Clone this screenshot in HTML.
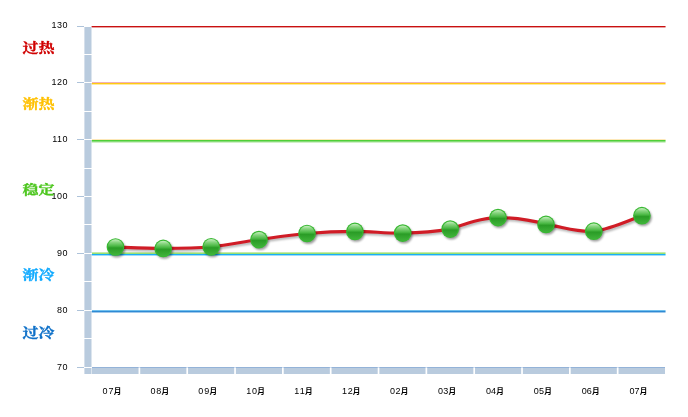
<!DOCTYPE html><html><head><meta charset="utf-8"><title>chart</title>
<style>html,body{margin:0;padding:0;background:#fff;overflow:hidden}svg{display:block}.n{font-family:"Liberation Sans","Noto Sans CJK SC",sans-serif;font-size:9px;fill:#000}.m{font-size:7.6px;font-weight:bold}.z{font-family:"Liberation Serif","Noto Serif CJK SC",serif;font-size:16px;font-weight:bold}</style></head><body>
<svg width="688" height="417" viewBox="0 0 688 417" shape-rendering="crispEdges">
<defs><linearGradient id="g" x1="0" y1="0" x2="0" y2="1"><stop offset="0" stop-color="#c6efbe"/><stop offset="0.2" stop-color="#86d47e"/><stop offset="0.44" stop-color="#4ab844"/><stop offset="0.56" stop-color="#2a9c26"/><stop offset="1" stop-color="#40b23a"/></linearGradient><filter id="sh" x="-30%" y="-30%" width="170%" height="170%"><feGaussianBlur stdDeviation="1.2"/></filter></defs>
<rect width="688" height="417" fill="#fff"/>
<rect x="92" y="26" width="573" height="1" fill="#c91111"/>
<rect x="91" y="26" width="1" height="1" fill="#c91111" opacity="0.4"/>
<rect x="665" y="26" width="1" height="1" fill="#c91111" opacity="0.55"/>
<rect x="92" y="27" width="573" height="1" fill="#e9a0a0"/>
<rect x="91" y="27" width="1" height="1" fill="#e9a0a0" opacity="0.4"/>
<rect x="665" y="27" width="1" height="1" fill="#e9a0a0" opacity="0.55"/>
<rect x="92" y="82" width="573" height="1" fill="#f0b0b8"/>
<rect x="91" y="82" width="1" height="1" fill="#f0b0b8" opacity="0.4"/>
<rect x="665" y="82" width="1" height="1" fill="#f0b0b8" opacity="0.55"/>
<rect x="92" y="83" width="573" height="1" fill="#ffca10"/>
<rect x="91" y="83" width="1" height="1" fill="#ffca10" opacity="0.4"/>
<rect x="665" y="83" width="1" height="1" fill="#ffca10" opacity="0.55"/>
<rect x="92" y="84" width="573" height="1" fill="#ffe9a0"/>
<rect x="91" y="84" width="1" height="1" fill="#ffe9a0" opacity="0.4"/>
<rect x="665" y="84" width="1" height="1" fill="#ffe9a0" opacity="0.55"/>
<rect x="92" y="139" width="573" height="1" fill="#fde8b8"/>
<rect x="91" y="139" width="1" height="1" fill="#fde8b8" opacity="0.4"/>
<rect x="665" y="139" width="1" height="1" fill="#fde8b8" opacity="0.55"/>
<rect x="92" y="140" width="573" height="1" fill="#4fd038"/>
<rect x="91" y="140" width="1" height="1" fill="#4fd038" opacity="0.4"/>
<rect x="665" y="140" width="1" height="1" fill="#4fd038" opacity="0.55"/>
<rect x="92" y="141" width="573" height="1" fill="#88dc78"/>
<rect x="91" y="141" width="1" height="1" fill="#88dc78" opacity="0.4"/>
<rect x="665" y="141" width="1" height="1" fill="#88dc78" opacity="0.55"/>
<rect x="92" y="142" width="573" height="1" fill="#d0f0c8"/>
<rect x="91" y="142" width="1" height="1" fill="#d0f0c8" opacity="0.4"/>
<rect x="665" y="142" width="1" height="1" fill="#d0f0c8" opacity="0.55"/>
<rect x="92" y="252" width="573" height="1" fill="#c4ecaa"/>
<rect x="91" y="252" width="1" height="1" fill="#c4ecaa" opacity="0.4"/>
<rect x="665" y="252" width="1" height="1" fill="#c4ecaa" opacity="0.55"/>
<rect x="92" y="253" width="573" height="1" fill="#9be070"/>
<rect x="91" y="253" width="1" height="1" fill="#9be070" opacity="0.4"/>
<rect x="665" y="253" width="1" height="1" fill="#9be070" opacity="0.55"/>
<rect x="92" y="254" width="573" height="1" fill="#18b0f8"/>
<rect x="91" y="254" width="1" height="1" fill="#18b0f8" opacity="0.4"/>
<rect x="665" y="254" width="1" height="1" fill="#18b0f8" opacity="0.55"/>
<rect x="92" y="255" width="573" height="1" fill="#a0dcfa"/>
<rect x="91" y="255" width="1" height="1" fill="#a0dcfa" opacity="0.4"/>
<rect x="665" y="255" width="1" height="1" fill="#a0dcfa" opacity="0.55"/>
<rect x="92" y="310" width="573" height="1" fill="#70c0ee"/>
<rect x="91" y="310" width="1" height="1" fill="#70c0ee" opacity="0.4"/>
<rect x="665" y="310" width="1" height="1" fill="#70c0ee" opacity="0.55"/>
<rect x="92" y="311" width="573" height="1" fill="#2e8ad4"/>
<rect x="91" y="311" width="1" height="1" fill="#2e8ad4" opacity="0.4"/>
<rect x="665" y="311" width="1" height="1" fill="#2e8ad4" opacity="0.55"/>
<rect x="92" y="312" width="573" height="1" fill="#a0c8ea"/>
<rect x="91" y="312" width="1" height="1" fill="#a0c8ea" opacity="0.4"/>
<rect x="665" y="312" width="1" height="1" fill="#a0c8ea" opacity="0.55"/>
<rect x="84.4" y="27" width="7.1" height="347" fill="#b9cbde" shape-rendering="geometricPrecision"/>
<rect x="92" y="367" width="573" height="7" fill="#b9cbde"/>
<rect x="92" y="367" width="573" height="1" fill="#94b3d8"/>
<rect x="77" y="26" width="7" height="1" fill="#aec3da"/>
<rect x="84" y="54" width="8" height="1" fill="#fff"/>
<rect x="77" y="82" width="7" height="1" fill="#aec3da"/>
<rect x="84" y="82" width="8" height="1" fill="#fff"/>
<rect x="84" y="111" width="8" height="1" fill="#fff"/>
<rect x="77" y="139" width="7" height="1" fill="#aec3da"/>
<rect x="84" y="139" width="8" height="1" fill="#fff"/>
<rect x="84" y="168" width="8" height="1" fill="#fff"/>
<rect x="77" y="196" width="7" height="1" fill="#aec3da"/>
<rect x="84" y="196" width="8" height="1" fill="#fff"/>
<rect x="84" y="224" width="8" height="1" fill="#fff"/>
<rect x="77" y="253" width="7" height="1" fill="#aec3da"/>
<rect x="84" y="253" width="8" height="1" fill="#fff"/>
<rect x="84" y="281" width="8" height="1" fill="#fff"/>
<rect x="77" y="310" width="7" height="1" fill="#aec3da"/>
<rect x="84" y="310" width="8" height="1" fill="#fff"/>
<rect x="84" y="338" width="8" height="1" fill="#fff"/>
<rect x="77" y="367" width="7" height="1" fill="#aec3da"/>
<rect x="84" y="367" width="8" height="1" fill="#fff"/>
<g shape-rendering="geometricPrecision">
<rect x="138.53" y="368" width="1.7" height="6" fill="#fff"/>
<rect x="138.53" y="367" width="1.7" height="1" fill="#d4e2f2"/>
<rect x="186.36" y="368" width="1.7" height="6" fill="#fff"/>
<rect x="186.36" y="367" width="1.7" height="1" fill="#d4e2f2"/>
<rect x="234.19" y="368" width="1.7" height="6" fill="#fff"/>
<rect x="234.19" y="367" width="1.7" height="1" fill="#d4e2f2"/>
<rect x="282.02" y="368" width="1.7" height="6" fill="#fff"/>
<rect x="282.02" y="367" width="1.7" height="1" fill="#d4e2f2"/>
<rect x="329.85" y="368" width="1.7" height="6" fill="#fff"/>
<rect x="329.85" y="367" width="1.7" height="1" fill="#d4e2f2"/>
<rect x="377.68" y="368" width="1.7" height="6" fill="#fff"/>
<rect x="377.68" y="367" width="1.7" height="1" fill="#d4e2f2"/>
<rect x="425.51" y="368" width="1.7" height="6" fill="#fff"/>
<rect x="425.51" y="367" width="1.7" height="1" fill="#d4e2f2"/>
<rect x="473.34" y="368" width="1.7" height="6" fill="#fff"/>
<rect x="473.34" y="367" width="1.7" height="1" fill="#d4e2f2"/>
<rect x="521.17" y="368" width="1.7" height="6" fill="#fff"/>
<rect x="521.17" y="367" width="1.7" height="1" fill="#d4e2f2"/>
<rect x="569.00" y="368" width="1.7" height="6" fill="#fff"/>
<rect x="569.00" y="367" width="1.7" height="1" fill="#d4e2f2"/>
<rect x="616.83" y="368" width="1.7" height="6" fill="#fff"/>
<rect x="616.83" y="367" width="1.7" height="1" fill="#d4e2f2"/>
</g>
<text class="n" x="68" y="28" text-anchor="end" letter-spacing="0.5">130</text>
<text class="n" x="68" y="85" text-anchor="end" letter-spacing="0.5">120</text>
<text class="n" x="68" y="142" text-anchor="end" letter-spacing="0.5">110</text>
<text class="n" x="68" y="199" text-anchor="end" letter-spacing="0.5">100</text>
<text class="n" x="68" y="256" text-anchor="end" letter-spacing="0.5">90</text>
<text class="n" x="68" y="313" text-anchor="end" letter-spacing="0.5">80</text>
<text class="n" x="68" y="370" text-anchor="end" letter-spacing="0.5">70</text>
<text class="n" x="102.5 108.5" y="394.2">07<tspan class="m" x="113.7" y="394.3">月</tspan></text>
<text class="n" x="150.4 156.3" y="394.2">08<tspan class="m" x="161.5" y="394.3">月</tspan></text>
<text class="n" x="198.3 204.2" y="394.2">09<tspan class="m" x="209.4" y="394.3">月</tspan></text>
<text class="n" x="246.3 252.0" y="394.2">10<tspan class="m" x="257.2" y="394.3">月</tspan></text>
<text class="n" x="294.2 299.8" y="394.2">11<tspan class="m" x="305.0" y="394.3">月</tspan></text>
<text class="n" x="342.1 347.7" y="394.2">12<tspan class="m" x="352.8" y="394.3">月</tspan></text>
<text class="n" x="390.0 395.5" y="394.2">02<tspan class="m" x="400.7" y="394.3">月</tspan></text>
<text class="n" x="437.9 443.3" y="394.2">03<tspan class="m" x="448.5" y="394.3">月</tspan></text>
<text class="n" x="485.9 491.1" y="394.2">04<tspan class="m" x="496.3" y="394.3">月</tspan></text>
<text class="n" x="533.8 539.0" y="394.2">05<tspan class="m" x="544.2" y="394.3">月</tspan></text>
<text class="n" x="581.7 586.8" y="394.2">06<tspan class="m" x="592.0" y="394.3">月</tspan></text>
<text class="n" x="629.6 634.6" y="394.2">07<tspan class="m" x="639.8" y="394.3">月</tspan></text>
<text class="z" transform="translate(22.5,51.9) scale(1,0.79)" fill="#d00000" stroke="#d00000" stroke-width="0.4">过热</text>
<text class="z" transform="translate(22.5,108.1) scale(1,0.79)" fill="#ffc000" stroke="#ffc000" stroke-width="0.4">渐热</text>
<text class="z" transform="translate(22.5,194.3) scale(1,0.79)" fill="#4cc61e" stroke="#4cc61e" stroke-width="0.4">稳定</text>
<text class="z" transform="translate(22.5,279.3) scale(1,0.79)" fill="#10aaff" stroke="#10aaff" stroke-width="0.4">渐冷</text>
<text class="z" transform="translate(22.5,336.7) scale(1,0.79)" fill="#0e70c8" stroke="#0e70c8" stroke-width="0.4">过冷</text>
<g shape-rendering="auto">
<path d="M115.5,247 C123.45,247.23 147.25,248.43 163.2,248.4 C179.15,248.37 195.23,248.27 211.2,246.8 C227.17,245.33 243.03,241.82 259,239.6 C274.97,237.38 291.02,234.87 307,233.5 C322.98,232.13 338.95,231.47 354.9,231.4 C370.85,231.33 386.82,233.48 402.7,233.1 C418.58,232.72 434.32,231.68 450.2,229.1 C466.20,223.50 482.00,217.90 498,217.6 C514.00,217.50 530.00,219.60 546,224.4 C561.97,226.67 577.82,232.65 593.8,231.2 C609.78,229.75 633.88,218.28 641.9,215.7" fill="none" stroke="#000" stroke-opacity="0.3" stroke-width="3" transform="translate(1.2,1.8)" filter="url(#sh)"/>
<path d="M115.5,247 C123.45,247.23 147.25,248.43 163.2,248.4 C179.15,248.37 195.23,248.27 211.2,246.8 C227.17,245.33 243.03,241.82 259,239.6 C274.97,237.38 291.02,234.87 307,233.5 C322.98,232.13 338.95,231.47 354.9,231.4 C370.85,231.33 386.82,233.48 402.7,233.1 C418.58,232.72 434.32,231.68 450.2,229.1 C466.20,223.50 482.00,217.90 498,217.6 C514.00,217.50 530.00,219.60 546,224.4 C561.97,226.67 577.82,232.65 593.8,231.2 C609.78,229.75 633.88,218.28 641.9,215.7" fill="none" stroke="#d01c26" stroke-width="3.1" stroke-linecap="round"/>
<circle cx="116.8" cy="248.8" r="8.6" fill="#000" opacity="0.4" filter="url(#sh)"/>
<circle cx="115.5" cy="247" r="8.85" fill="#38b832"/>
<circle cx="115.5" cy="247" r="7.7" fill="url(#g)"/>
<circle cx="164.5" cy="250.2" r="8.6" fill="#000" opacity="0.4" filter="url(#sh)"/>
<circle cx="163.2" cy="248.4" r="8.85" fill="#38b832"/>
<circle cx="163.2" cy="248.4" r="7.7" fill="url(#g)"/>
<circle cx="212.5" cy="248.6" r="8.6" fill="#000" opacity="0.4" filter="url(#sh)"/>
<circle cx="211.2" cy="246.8" r="8.85" fill="#38b832"/>
<circle cx="211.2" cy="246.8" r="7.7" fill="url(#g)"/>
<circle cx="260.3" cy="241.4" r="8.6" fill="#000" opacity="0.4" filter="url(#sh)"/>
<circle cx="259" cy="239.6" r="8.85" fill="#38b832"/>
<circle cx="259" cy="239.6" r="7.7" fill="url(#g)"/>
<circle cx="308.3" cy="235.3" r="8.6" fill="#000" opacity="0.4" filter="url(#sh)"/>
<circle cx="307" cy="233.5" r="8.85" fill="#38b832"/>
<circle cx="307" cy="233.5" r="7.7" fill="url(#g)"/>
<circle cx="356.2" cy="233.2" r="8.6" fill="#000" opacity="0.4" filter="url(#sh)"/>
<circle cx="354.9" cy="231.4" r="8.85" fill="#38b832"/>
<circle cx="354.9" cy="231.4" r="7.7" fill="url(#g)"/>
<circle cx="404.0" cy="234.9" r="8.6" fill="#000" opacity="0.4" filter="url(#sh)"/>
<circle cx="402.7" cy="233.1" r="8.85" fill="#38b832"/>
<circle cx="402.7" cy="233.1" r="7.7" fill="url(#g)"/>
<circle cx="451.5" cy="230.9" r="8.6" fill="#000" opacity="0.4" filter="url(#sh)"/>
<circle cx="450.2" cy="229.1" r="8.85" fill="#38b832"/>
<circle cx="450.2" cy="229.1" r="7.7" fill="url(#g)"/>
<circle cx="499.3" cy="219.4" r="8.6" fill="#000" opacity="0.4" filter="url(#sh)"/>
<circle cx="498" cy="217.6" r="8.85" fill="#38b832"/>
<circle cx="498" cy="217.6" r="7.7" fill="url(#g)"/>
<circle cx="547.3" cy="226.2" r="8.6" fill="#000" opacity="0.4" filter="url(#sh)"/>
<circle cx="546" cy="224.4" r="8.85" fill="#38b832"/>
<circle cx="546" cy="224.4" r="7.7" fill="url(#g)"/>
<circle cx="595.1" cy="233.0" r="8.6" fill="#000" opacity="0.4" filter="url(#sh)"/>
<circle cx="593.8" cy="231.2" r="8.85" fill="#38b832"/>
<circle cx="593.8" cy="231.2" r="7.7" fill="url(#g)"/>
<circle cx="643.2" cy="217.5" r="8.6" fill="#000" opacity="0.4" filter="url(#sh)"/>
<circle cx="641.9" cy="215.7" r="8.85" fill="#38b832"/>
<circle cx="641.9" cy="215.7" r="7.7" fill="url(#g)"/>
</g>
</svg></body></html>
